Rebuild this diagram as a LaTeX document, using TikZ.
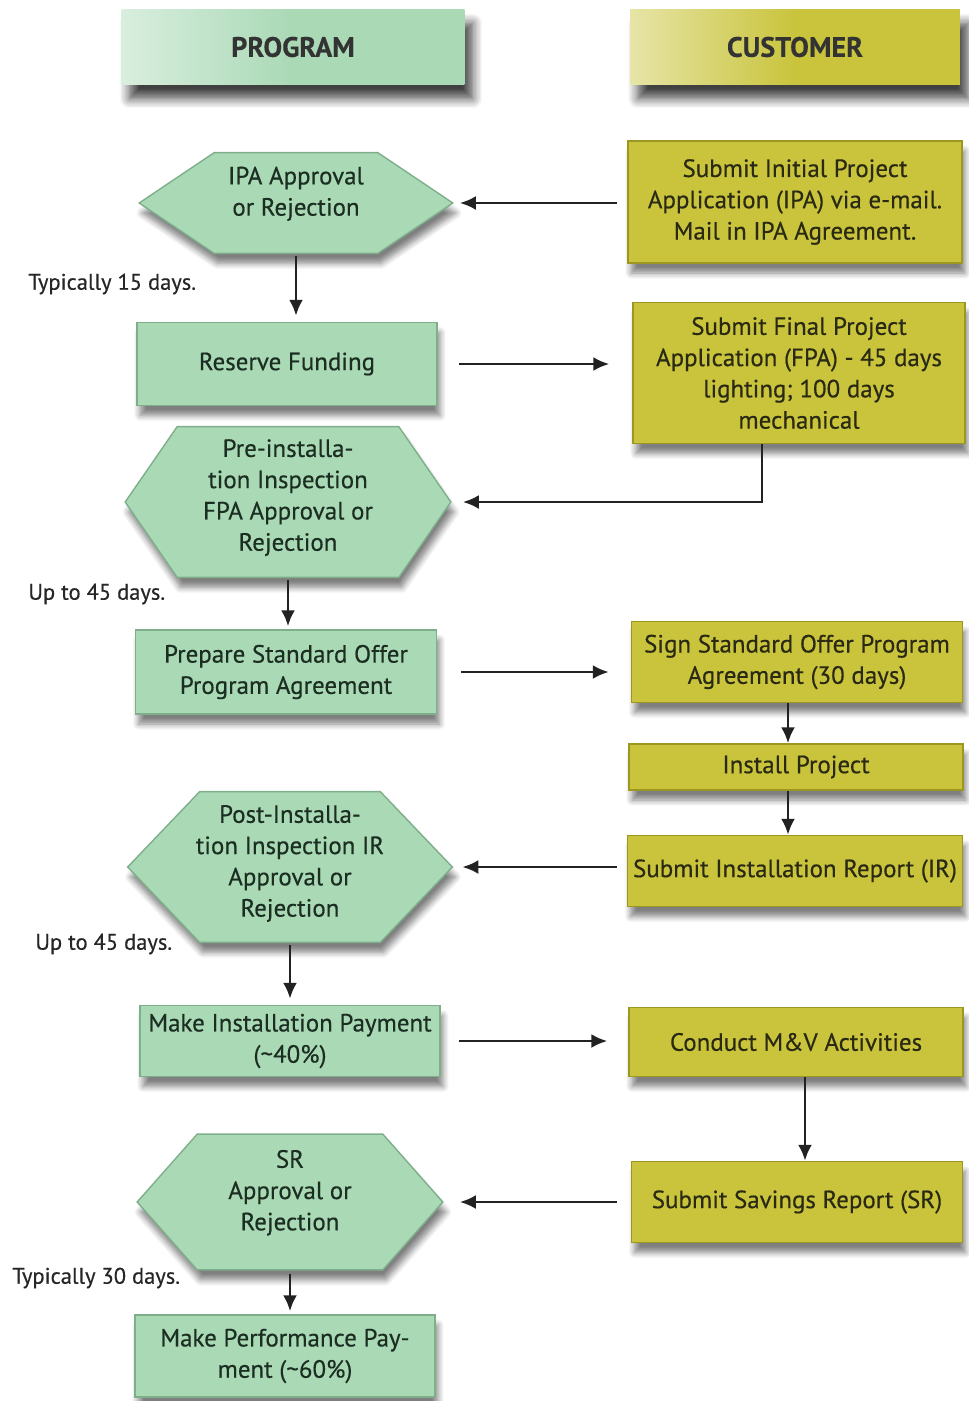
\documentclass[tikz,border=0pt]{standalone}
\usepackage{fontspec}
\setmainfont{PT Sans}[FakeBold=0.4]
\usetikzlibrary{arrows.meta, shadows.blur, backgrounds}

\definecolor{progfill}{HTML}{AAD9B6}
\definecolor{progedge}{HTML}{7FAE8B}
\definecolor{custfill}{HTML}{C9C43C}
\definecolor{custedge}{HTML}{9C9720}
\definecolor{progtext}{HTML}{1C2E22}
\definecolor{custtext}{HTML}{2A2914}
\definecolor{linkgray}{HTML}{222222}

\newcommand\flowfont{\fontsize{14.2}{17.8}\selectfont}
\newcommand\notefont{\fontsize{12.8}{15}\selectfont}
% hexagon drawn round a plain node: #1 node name, #2 slant
\newcommand\drawhex[2]{%
  \path[hexshape] (#1.west) -- ([xshift=#2]#1.north west) -- ([xshift=-#2]#1.north east)
    -- (#1.east) -- ([xshift=-#2]#1.south east) -- ([xshift=#2]#1.south west) -- cycle;}

\tikzset{
  boxshadow/.style={blur shadow={shadow xshift=0.06cm, shadow yshift=-0.2cm, shadow blur radius=0.12cm, shadow blur steps=6, shadow opacity=50}},
  headshadow/.style={blur shadow={shadow xshift=0.16cm, shadow yshift=-0.28cm, shadow blur radius=0.2cm, shadow blur steps=8, shadow opacity=75}},
  header/.style={rectangle, minimum height=1.5cm, text=black!80, font=\fontsize{16}{18}\selectfont\bfseries, headshadow},
  progbox/.style={rectangle, fill=progfill, draw=progedge, line width=0.8pt, text=progtext, font=\flowfont, align=center, inner sep=2pt, boxshadow},
  custbox/.style={rectangle, fill=custfill, draw=custedge, line width=0.8pt, text=custtext, font=\flowfont, align=center, inner sep=2pt, boxshadow},
  hexnode/.style={rectangle, text=progtext, font=\flowfont, align=center, inner sep=0pt},
  hexshape/.style={fill=progfill, draw=progedge, line width=0.8pt, boxshadow},
  daynote/.style={anchor=west, text=black!85, font=\notefont, inner sep=0pt},
  link/.style={draw=linkgray, line width=1.6pt, -{Latex[length=0.32cm, width=0.28cm]}}
}

\begin{document}
\begin{tikzpicture}[x=0.02cm, y=-0.02cm]
\useasboundingbox (0,0) rectangle (969,1401);

% Column headers
\node[header, left color=progfill!45, right color=progfill, middle color=progfill, minimum width=6.86cm] (proghead) at (293,47) {PROGRAM};
\node[header, left color=custfill!45, right color=custfill, middle color=custfill, minimum width=6.6cm] (custhead) at (795,47) {CUSTOMER};

% Program column
\node[hexnode, minimum width=6.26cm, minimum height=2cm, text depth=13.5pt] (ipa) at (296,203) {IPA Approval\\or Rejection};
\node[progbox, minimum width=6cm, minimum height=1.66cm] (reserve) at (287,364) {Reserve Funding};
\node[hexnode, minimum width=6.5cm, minimum height=3cm, text depth=8pt] (preinsp) at (288,502) {Pre-installa-\\tion Inspection\\FPA Approval or\\Rejection};
\node[progbox, minimum width=6.02cm, minimum height=1.68cm] (prepare) at (286,672) {Prepare Standard Offer\\Program Agreement};
\node[hexnode, minimum width=6.48cm, minimum height=3cm, text depth=7pt] (postinsp) at (290,867) {Post-Installa-\\tion Inspection IR\\Approval or\\Rejection};
\node[progbox, minimum width=6cm, minimum height=1.42cm] (instpay) at (290,1041) {Make Installation Payment\\(\textasciitilde40\%)};
\node[hexnode, minimum width=6.1cm, minimum height=2.7cm, text depth=13.5pt] (sr) at (290,1202) {SR\\Approval or\\Rejection};
\node[progbox, minimum width=6cm, minimum height=1.64cm] (perfpay) at (285,1356) {Make Performance Pay-\\ment (\textasciitilde60\%)};

% Customer column
\node[custbox, minimum width=6.68cm, minimum height=2.44cm] (submitipa) at (795,202) {Submit Initial Project\\Application (IPA) via e-mail.\\Mail in IPA Agreement.};
\node[custbox, minimum width=6.64cm, minimum height=2.82cm] (submitfpa) at (799,373) {Submit Final Project\\Application (FPA) - 45 days\\lighting; 100 days\\mechanical};
\node[custbox, minimum width=6.62cm, minimum height=1.62cm] (signsop) at (797,662) {Sign Standard Offer Program\\Agreement (30 days)};
\node[custbox, minimum width=6.68cm, minimum height=0.92cm] (install) at (796,767) {Install Project};
\node[custbox, minimum width=6.7cm, minimum height=1.42cm] (submitir) at (795,871) {Submit Installation Report (IR)};
\node[custbox, minimum width=6.68cm, minimum height=1.38cm] (mv) at (796,1042) {Conduct M\&V Activities};
\node[custbox, minimum width=6.62cm, minimum height=1.62cm] (submitsr) at (797,1202) {Submit Savings Report (SR)};

% Waiting times
\node[daynote] (note1) at (28,284) {Typically 15 days.};
\node[daynote] (note2) at (28,594) {Up to 45 days.};
\node[daynote] (note3) at (35,944) {Up to 45 days.};
\node[daynote] (note4) at (12,1278) {Typically 30 days.};

% Hexagons behind their text
\begin{scope}[on background layer]
\drawhex{ipa}{1.5cm}
\drawhex{preinsp}{1.04cm}
\drawhex{postinsp}{1.44cm}
\drawhex{sr}{1.2cm}
\end{scope}

% Connectors
\draw[link, shorten <=0.2cm, shorten >=0.14cm] (submitipa.west |- ipa.east) -- (ipa.east);
\draw[link, shorten <=0.06cm, shorten >=0.12cm] (ipa.south) -- (ipa.south |- reserve.north);
\draw[link, shorten <=0.42cm, shorten >=0.46cm] (reserve.east) -- (reserve.east -| submitfpa.west);
\draw[link, shorten >=0.24cm] ([xshift=-0.74cm]submitfpa.south) |- (preinsp.east);
\draw[link, shorten <=0.06cm, shorten >=0.06cm] (preinsp.south) -- (preinsp.south |- prepare.north);
\draw[link, shorten <=0.48cm, shorten >=0.44cm] (prepare.east) -- (prepare.east -| signsop.west);
\draw[link] ([xshift=-0.18cm]signsop.south) -- ([xshift=-0.18cm]signsop.south |- install.north);
\draw[link] ([xshift=-0.16cm]install.south) -- ([xshift=-0.16cm]install.south |- submitir.north);
\draw[link, shorten <=0.2cm, shorten >=0.2cm] (submitir.west |- postinsp.east) -- (postinsp.east);
\draw[link, shorten <=0.06cm, shorten >=0.12cm] (postinsp.south) -- (postinsp.south |- instpay.north);
\draw[link, shorten <=0.36cm, shorten >=0.42cm] (instpay.east) -- (instpay.east -| mv.west);
\draw[link] ([xshift=0.18cm]mv.south) -- ([xshift=0.18cm]mv.south |- submitsr.north);
\draw[link, shorten <=0.28cm, shorten >=0.34cm] (submitsr.west |- sr.east) -- (sr.east);
\draw[link, shorten <=0.08cm, shorten >=0.06cm] (sr.south) -- (sr.south |- perfpay.north);

\end{tikzpicture}
\end{document}
